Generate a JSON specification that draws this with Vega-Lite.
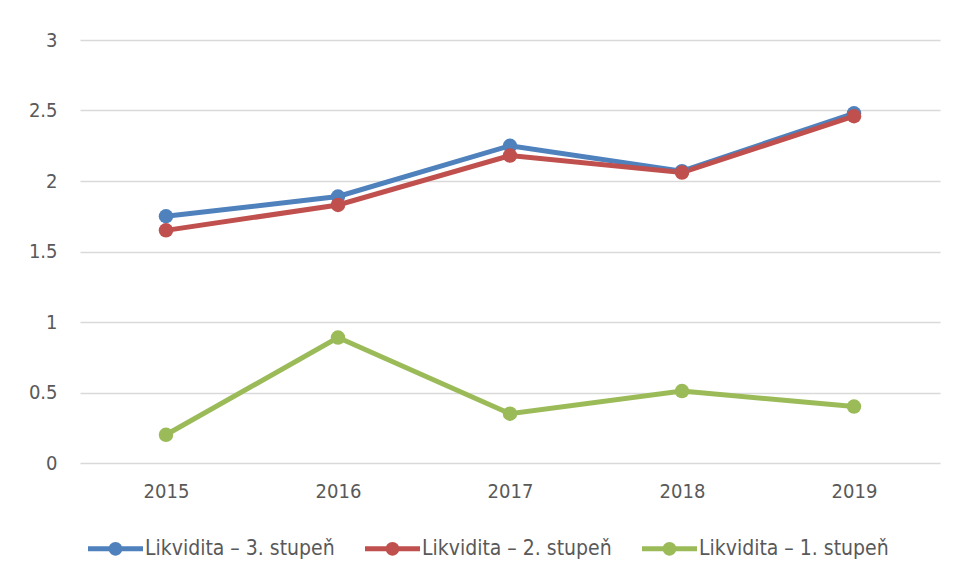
{
  "$schema": "https://vega.github.io/schema/vega-lite/v6.json",
  "width": 860,
  "height": 423,
  "autosize": "none",
  "padding": {"left": 80, "top": 40, "right": 14, "bottom": 115},
  "background": "white",
  "data": {"values": [
    {"rok": "2015", "serie": "Likvidita – 3. stupeň", "hodnota": 1.75},
    {"rok": "2016", "serie": "Likvidita – 3. stupeň", "hodnota": 1.89},
    {"rok": "2017", "serie": "Likvidita – 3. stupeň", "hodnota": 2.25},
    {"rok": "2018", "serie": "Likvidita – 3. stupeň", "hodnota": 2.07},
    {"rok": "2019", "serie": "Likvidita – 3. stupeň", "hodnota": 2.48},
    {"rok": "2015", "serie": "Likvidita – 2. stupeň", "hodnota": 1.65},
    {"rok": "2016", "serie": "Likvidita – 2. stupeň", "hodnota": 1.83},
    {"rok": "2017", "serie": "Likvidita – 2. stupeň", "hodnota": 2.18},
    {"rok": "2018", "serie": "Likvidita – 2. stupeň", "hodnota": 2.06},
    {"rok": "2019", "serie": "Likvidita – 2. stupeň", "hodnota": 2.46},
    {"rok": "2015", "serie": "Likvidita – 1. stupeň", "hodnota": 0.2},
    {"rok": "2016", "serie": "Likvidita – 1. stupeň", "hodnota": 0.89},
    {"rok": "2017", "serie": "Likvidita – 1. stupeň", "hodnota": 0.35},
    {"rok": "2018", "serie": "Likvidita – 1. stupeň", "hodnota": 0.51},
    {"rok": "2019", "serie": "Likvidita – 1. stupeň", "hodnota": 0.4}
  ]},
  "mark": {"type": "line", "strokeWidth": 5, "point": {"filled": true, "size": 210}},
  "encoding": {
    "x": {
      "field": "rok", "type": "ordinal",
      "scale": {"type": "point", "padding": 0.5},
      "axis": {"title": null, "labelAngle": 0, "ticks": false, "domain": false, "grid": false, "labelPadding": 18, "labelFontSize": 20, "labelColor": "#595959", "labelFont": "DejaVu Sans Condensed, sans-serif"}
    },
    "y": {
      "field": "hodnota", "type": "quantitative",
      "scale": {"domain": [0, 3], "nice": false},
      "axis": {"title": null, "values": [0, 0.5, 1, 1.5, 2, 2.5, 3], "format": "~g", "ticks": false, "domain": false, "gridColor": "#d9d9d9", "gridWidth": 1.5, "labelPadding": 23, "labelFontSize": 20, "labelColor": "#595959", "labelFont": "DejaVu Sans Condensed, sans-serif"}
    },
    "color": {
      "field": "serie", "type": "nominal",
      "scale": {"domain": ["Likvidita – 3. stupeň", "Likvidita – 2. stupeň", "Likvidita – 1. stupeň"], "range": ["#4F81BD", "#C0504D", "#9BBB59"]},
      "legend": {
        "title": null, "orient": "none", "legendX": 8, "legendY": 481, "direction": "horizontal",
        "labelFontSize": 21, "labelColor": "#595959", "labelFont": "DejaVu Sans Condensed, sans-serif",
        "labelLimit": 400, "labelOffset": 2, "columnPadding": 30,
        "symbolType": "M-1,-0.09 L1,-0.09 L1,0.09 L-1,0.09 Z M-0.25,0 A0.25,0.25 0 1,1 0.25,0 A0.25,0.25 0 1,1 -0.25,0 Z",
        "symbolSize": 3025, "symbolStrokeWidth": 0
      }
    }
  },
  "config": {"view": {"stroke": null}}
}
